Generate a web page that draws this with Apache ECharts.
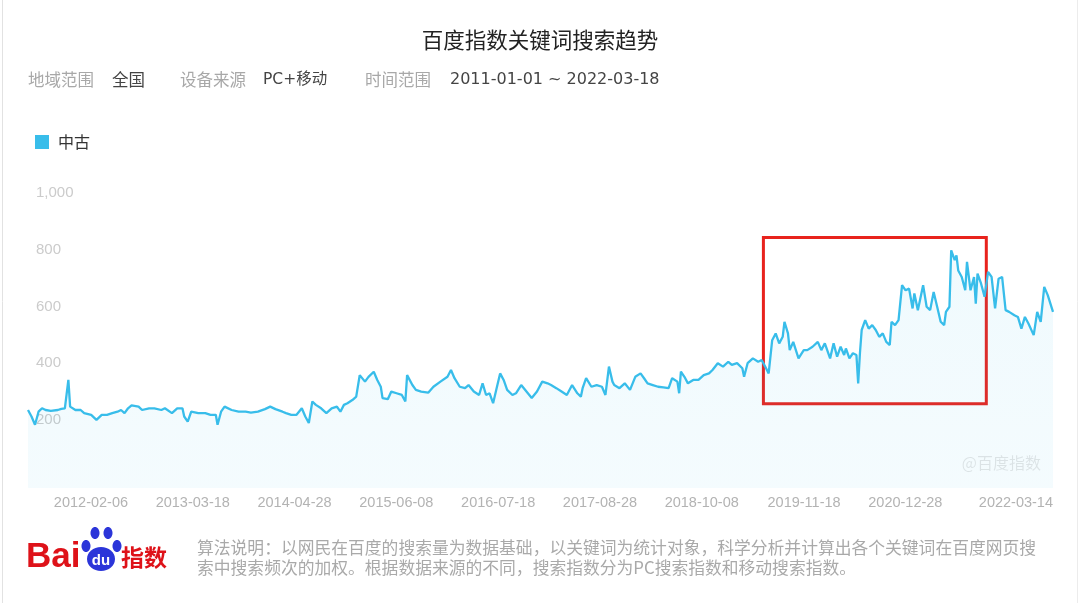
<!DOCTYPE html>
<html><head><meta charset="utf-8">
<script src="https://cdn.jsdelivr.net/npm/echarts@6/dist/echarts.min.js"></script>
<style>html,body{margin:0;padding:0;background:#fff}#c{width:1080px;height:603px}</style>
</head><body><div id="c"></div>
<script>
// ---------- data ----------
const chartTitle = '百度指数关键词搜索趋势';
const seriesName = '中古';
const startYear = 2011, startMonth = 0, startDay = 3; // first weekly point (Monday)
const weekCount = 585;
const tickLabels = ['2012-02-06','2013-03-18','2014-04-28','2015-06-08','2016-07-18','2017-08-28','2018-10-08','2019-11-18','2020-12-28','2022-03-14'];
// weekly samples: week index (from 2011-01-03) and value
const sampleWeek = [
0,2,4,6,8,10,13,17,19,21,23,24,27,30,32,36,39,42,45,48,51,53,55,57,59,63,65,69,72,76,78,82,85,88,89,91,93,97,101,104,107,108,110,112,
116,120,124,127,131,135,138,141,145,147,150,153,156,158,160,162,164,167,170,173,176,178,180,182,185,187,189,192,194,197,199,201,202,205,207,210,213,215,216,219,221,224,228,
231,235,239,241,243,246,249,251,254,257,259,261,263,265,267,269,271,273,276,278,281,284,287,290,293,296,298,301,304,307,310,313,315,316,318,321,324,327,329,331,333,334,337,340,343,
346,349,351,353,356,359,362,365,367,370,371,372,374,376,379,382,385,388,390,393,396,399,401,404,407,408,410,413,416,418,420,422,424,426,428,430,431,433,434,436,439,442,444,447,450,452,454,
457,459,461,463,465,466,468,470,472,473,474,475,477,479,481,483,485,487,489,491,492,494,496,498,500,502,504,505,507,510,512,514,516,518,520,522,523,525,526,528,529,530,532,534,535,537,539,540,541,543,545,547,549,551,553,555,557,559,560,562,564,566,568,570,573,575,577,579,581,584
];
const sampleValue = [
235,212,183,229,241,235,232,235,239,241,341,247,235,235,224,218,200,218,218,224,229,235,224,241,251,247,235,241,241,235,241,224,241,241,212,194,229,224,224,218,218,183,229,247,
235,229,229,226,229,238,247,238,229,224,218,218,241,212,189,265,253,241,224,241,247,229,253,259,271,282,358,335,352,370,341,317,277,273,300,294,288,265,358,323,306,300,296,
317,335,352,376,347,317,312,323,300,288,329,288,294,259,312,364,341,306,288,294,323,300,277,300,335,329,323,312,300,288,323,294,282,312,347,317,323,317,288,388,335,323,312,329,306,
352,364,347,329,323,317,315,312,347,335,294,370,352,329,341,341,358,364,376,400,388,405,394,400,382,352,400,417,405,411,388,364,481,505,470,493,546,505,446,475,417,446,446,458,475,446,470,
417,470,423,458,429,452,417,435,429,329,435,517,552,522,534,517,493,505,475,464,546,534,552,675,657,663,593,646,587,675,599,587,651,599,546,534,581,599,798,763,780,727,704,657,757,657,704,610,716,681,634,722,704,593,698,704,587,581,587,569,563,522,563,540,499,581,546,669,640,581
];
// highlighted region (annotation): week range and value range
const boxWeeks = [419, 546];
const boxValues = [843, 257];

// ---------- build ----------
const categories = [];
const t0 = Date.UTC(startYear, startMonth, startDay);
for (let i = 0; i < weekCount; i++) {
  categories.push(new Date(t0 + i * 7 * 86400000).toISOString().slice(0, 10));
}
const tickSet = new Set(tickLabels);
const seriesData = sampleWeek.map((w, i) => [w, sampleValue[i]]);

const CJK = "'Noto Sans CJK SC', 'Noto Sans', sans-serif";
const NUM = "'Liberation Sans', Arial, sans-serif";
const lineColor = '#38bdea';

function txt(text, x, y, size, color, extra) {
  return {
    type: 'text', silent: true,
    style: Object.assign({
      text: text, x: x, y: y, fill: color,
      fontSize: size, fontFamily: CJK,
      textAlign: 'left', textVerticalAlign: 'middle',
      align: 'left', verticalAlign: 'middle'
    }, extra || {})
  };
}

const chart = echarts.init(document.getElementById('c'), null, {renderer: 'canvas'});
chart.setOption({
  backgroundColor: '#fff',
  animation: false,
  legend: {
    left: 35, top: 134, padding: 0,
    icon: 'rect', itemWidth: 14, itemHeight: 14, itemGap: 10,
    textStyle: {fontSize: 16, color: '#333', fontFamily: CJK, padding: [0, 0, 0, 4]},
    data: [seriesName]
  },
  grid: {left: 28, right: 27, top: 193, bottom: 115, containLabel: false},
  xAxis: {
    type: 'category',
    data: categories,
    boundaryGap: false,
    axisLine: {show: false},
    axisTick: {show: false},
    splitLine: {show: false},
    axisLabel: {
      interval: (idx, val) => tickSet.has(val),
      align: 'right',
      margin: 7,
      color: '#b3b3b3',
      fontSize: 14.5,
      fontFamily: NUM
    }
  },
  yAxis: {
    type: 'value',
    min: -40, max: 1000,
    splitNumber: 5,
    axisLine: {show: false},
    axisTick: {show: false},
    splitLine: {show: false},
    axisLabel: {
      inside: true,
      margin: 8,
      color: '#cbcbcb',
      fontSize: 15,
      fontFamily: NUM,
      formatter: v => (v > 0 ? v.toLocaleString('en-US') : '')
    }
  },
  series: [{
    name: seriesName,
    type: 'line',
    data: seriesData,
    symbol: 'none',
    smooth: false,
    color: lineColor,
    lineStyle: {width: 2.3, color: lineColor},
    areaStyle: {
      origin: 'start',
      color: new echarts.graphic.LinearGradient(0, 0, 0, 1, [
        {offset: 0, color: 'rgba(56,189,234,0.11)'},
        {offset: 1, color: 'rgba(56,189,234,0.08)'}
      ])
    },
    markArea: {
      silent: true,
      itemStyle: {color: 'rgba(0,0,0,0)', borderColor: '#e8231d', borderWidth: 3},
      label: {show: false},
      data: [[{coord: [boxWeeks[0], boxValues[0]]}, {coord: [boxWeeks[1], boxValues[1]]}]]
    },
    z: 3
  }],
  graphic: [
    {type: 'line', silent: true, shape: {x1: 2.5, y1: 0, x2: 2.5, y2: 603}, style: {stroke: '#e2e2e2', lineWidth: 1}},
    {type: 'line', silent: true, shape: {x1: 1077.5, y1: 0, x2: 1077.5, y2: 603}, style: {stroke: '#ececec', lineWidth: 1}},
    txt(chartTitle, 540, 40, 21.5, '#222', {textAlign: 'center', align: 'center'}),
    txt('地域范围', 28, 80, 16.5, '#a8a8a8'),
    txt('全国', 112, 80, 16.5, '#444'),
    txt('设备来源', 180, 80, 16.5, '#a8a8a8'),
    txt('PC+移动', 263, 80, 16.5, '#444', {fontFamily: "'DejaVu Sans', 'Noto Sans CJK SC', sans-serif", fontSize: 15.5}),
    txt('时间范围', 365, 80, 16.5, '#a8a8a8'),
    txt('2011-01-01 ~ 2022-03-18', 450, 80, 16, '#444', {fontFamily: "'DejaVu Sans', sans-serif"}),
    txt('@百度指数', 1041, 463, 16, 'rgba(0,0,0,0.10)', {textAlign: 'right', align: 'right'}),
    // footer logo
    txt('Bai', 26, 557, 35, '#de1219', {fontFamily: NUM, fontWeight: 'bold'}),
    {type: 'ellipse', silent: true, shape: {cx: 101, cy: 559, rx: 14, ry: 12}, style: {fill: '#2b35d9'}},
    {type: 'ellipse', silent: true, shape: {cx: 86, cy: 546, rx: 4.5, ry: 6}, style: {fill: '#2b35d9'}},
    {type: 'ellipse', silent: true, shape: {cx: 95, cy: 533, rx: 4.5, ry: 6}, style: {fill: '#2b35d9'}},
    {type: 'ellipse', silent: true, shape: {cx: 108, cy: 533, rx: 4.5, ry: 6}, style: {fill: '#2b35d9'}},
    {type: 'ellipse', silent: true, shape: {cx: 117, cy: 546, rx: 4.5, ry: 6}, style: {fill: '#2b35d9'}},
    txt('du', 101, 561, 15, '#fff', {fontFamily: NUM, fontWeight: 'bold', textAlign: 'center', align: 'center'}),
    txt('指数', 121, 557, 23, '#de1219', {fontWeight: 'bold'}),
    txt('算法说明：以网民在百度的搜索量为数据基础，以关键词为统计对象，科学分析并计算出各个关键词在百度网页搜', 197, 548, 16.8, '#a9a9a9'),
    txt('索中搜索频次的加权。根据数据来源的不同，搜索指数分为PC搜索指数和移动搜索指数。', 197, 568, 16.8, '#a9a9a9')
  ]
});
</script>
</body></html>
